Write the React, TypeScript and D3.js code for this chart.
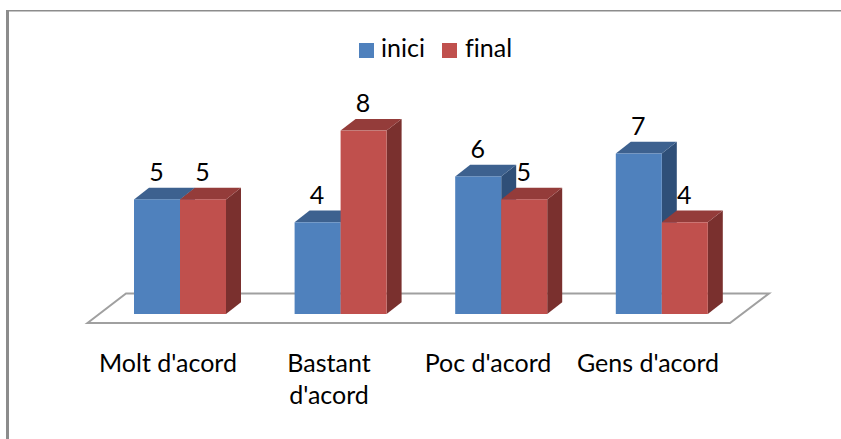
import React from "react";
import * as d3 from "d3";

const categories = ["Molt d'acord", "Bastant d'acord", "Poc d'acord", "Gens d'acord"];
const categoryLines = [["Molt d'acord"], ["Bastant", "d'acord"], ["Poc d'acord"], ["Gens d'acord"]];
const seriesNames = ["inici", "final"];
const inici = [5, 4, 6, 7];
const final_ = [5, 8, 5, 4];
const front = ["#4f81bd", "#c0504d"];
const top = ["#3d618f", "#943c3a"];
const side = ["#2f4f78", "#7a302e"];
const font = "Lato, Carlito, sans-serif";
const fs = 25;

export default function App() {
  const x = d3.scaleLinear().domain([0, 4]).range([94, 736.4]);
  const y = d3.scaleLinear().domain([0, 8]).range([314, 130.6]);
  const bw = 46;
  const dx = 15;
  const dy = 11.7;
  const series = [inici, final_];
  const bar = (cat: number, s: number) => {
    const x0 = x(cat) + 40 + s * bw;
    const x1 = x0 + bw;
    const v = series[s][cat];
    const yt = y(v);
    const yb = y(0);
    return (
      <g key={`${cat}-${s}`}>
        <polygon points={`${x1},${yt} ${x1 + dx},${yt - dy} ${x1 + dx},${yb - dy} ${x1},${yb}`} fill={side[s]} />
        <polygon points={`${x0},${yt} ${x0 + dx},${yt - dy} ${x1 + dx},${yt - dy} ${x1},${yt}`} fill={top[s]} />
        <rect x={x0} y={yt} width={bw} height={yb - yt} fill={front[s]} />
      </g>
    );
  };
  const labels = series.flatMap((vals, s) =>
    vals.map((v, c) => (
      <text key={`l${c}-${s}`} x={x(c) + 40 + s * bw + bw / 2 - 0.5} y={y(v) - 18.5} textAnchor="middle" fontSize={fs} fill="#000" fontFamily={font}>
        {v}
      </text>
    ))
  );
  const floor = `${x(0) - 6.5},323 ${x(0) + 32},293.5 769,293.5 730,323`;
  return (
    <svg width={841} height={439} style={{ position: "absolute", left: 0, top: 0, fontVariantLigatures: "none" }}>
      <rect width={841} height={439} fill="#fff" />
      <line x1={7.5} y1={10} x2={7.5} y2={439} stroke="#8c8c8c" strokeWidth={3} />
      <line x1={6} y1={10.75} x2={841} y2={10.75} stroke="#8c8c8c" strokeWidth={1.5} />
      <polygon points={floor} fill="#fff" stroke="#a0a0a0" strokeWidth={2} />
      {categories.map((_, c) => [0, 1].map((s) => bar(c, s)))}
      {labels}
      {seriesNames.map((n, i) => {
        const lx = [359, 442][i];
        const tx = [381, 465][i];
        return (
          <g key={n}>
            <rect x={lx} y={43} width={15} height={15} fill={front[i]} />
            <text x={tx} y={57} fontSize={fs} fontFamily={font} fill="#000">{n}</text>
          </g>
        );
      })}
      {categoryLines.map((lines, c) =>
        lines.map((t, i) => (
          <text key={t} x={[168, 329, 488, 648][c]} y={372 + i * 32} textAnchor="middle" fontSize={fs} fontFamily={font} fill="#000">
            {t}
          </text>
        ))
      )}
    </svg>
  );
}
